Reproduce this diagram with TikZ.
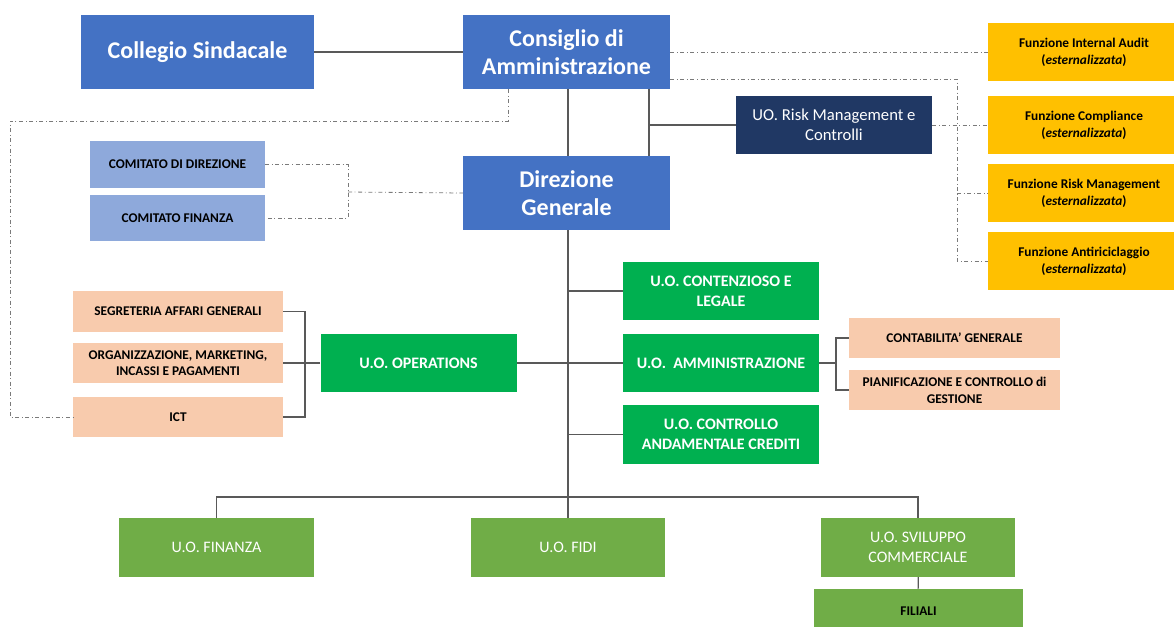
\documentclass[tikz,border=0pt]{standalone}
\usepackage{fontspec}
\setmainfont{Carlito}
\usetikzlibrary{calc}
\definecolor{cdablue}{HTML}{4472C4}
\definecolor{comblue}{HTML}{8EA9DB}
\definecolor{rknavy}{HTML}{203864}
\definecolor{fzgold}{HTML}{FFC000}
\definecolor{ufpeach}{HTML}{F8CBAD}
\definecolor{uogreen}{HTML}{00B050}
\definecolor{uoolive}{HTML}{70AD47}
\definecolor{lngray}{HTML}{595959}
\tikzset{
  box/.style={align=center,inner sep=2pt},
  topbox/.style={box,fill=cdablue,text=white,font=\fontsize{18}{21.5}\selectfont\bfseries,
    minimum width=155pt,minimum height=55.5pt},
  combox/.style={box,fill=comblue,font=\fontsize{10}{12}\selectfont\bfseries,
    minimum width=131pt,minimum height=35pt},
  funzbox/.style={box,fill=fzgold,font=\fontsize{10}{12.75}\selectfont\bfseries,
    minimum width=144pt,minimum height=43.5pt},
  peachbox/.style={box,fill=ufpeach,font=\fontsize{10}{12.5}\selectfont\bfseries,
    minimum width=157.5pt,minimum height=30.5pt},
  uobox/.style={box,fill=uogreen,text=white,font=\fontsize{12}{15}\selectfont\bfseries,
    minimum width=147pt,minimum height=44pt},
  olivebox/.style={box,fill=uoolive,text=white,font=\fontsize{12}{15}\selectfont,
    minimum width=146pt,minimum height=44pt},
  solidline/.style={draw=lngray,line width=1pt},
  dotline/.style={draw=lngray!80,line width=0.6pt,dash dot}
}

\begin{document}
\begin{tikzpicture}[x=0.75pt,y=-0.75pt]
\useasboundingbox (0,0) rectangle (1174,626);
\clip (0,0) rectangle (1174,626);

% vertici
\node [topbox,minimum width=175pt] (coll) at (197.5,52) {Collegio Sindacale};
\node [topbox] (cons) at (566.5,52) {Consiglio di\\Amministrazione};
\node [topbox] (dir) at (566.5,193) {Direzione\\Generale};
\node [box,fill=rknavy,text=white,font=\fontsize{12.5}{15}\selectfont,
  minimum width=147pt,minimum height=44pt] (risk) at (834,125) {UO. Risk Management e\\Controlli};

% comitati
\node [combox] (comd) at (177.5,164.5) {COMITATO DI DIREZIONE};
\node [combox] (comf) at (177.5,218) {COMITATO FINANZA};

% funzioni esternalizzate
\node [funzbox] (audit) at (1084,52) {Funzione Internal Audit\\(\textit{esternalizzata})};
\node [funzbox] (compl) at (1084,125) {Funzione Compliance\\(\textit{esternalizzata})};
\node [funzbox] (riskf) at (1084,193) {Funzione Risk Management\\(\textit{esternalizzata})};
\node [funzbox] (antir) at (1084,261) {Funzione Antiriciclaggio\\(\textit{esternalizzata})};

% operations
\node [peachbox] (segr) at (178,311.5) {SEGRETERIA AFFARI GENERALI};
\node [peachbox] (org) at (178,363) {ORGANIZZAZIONE, MARKETING,\\INCASSI E PAGAMENTI};
\node [peachbox] (ict) at (178,417) {ICT};
\node [uobox] (ops) at (418.5,363) {U.O. OPERATIONS};

% unita' centrali
\node [uobox] (cont) at (721,291) {U.O. CONTENZIOSO E\\LEGALE};
\node [uobox] (amm) at (721,363) {U.O.\ \ AMMINISTRAZIONE};
\node [uobox] (ctrl) at (721,434.5) {U.O. CONTROLLO\\ANDAMENTALE CREDITI};
\node [peachbox,minimum width=158pt,minimum height=30pt] (cgen) at (954.5,338) {CONTABILITA' GENERALE};
\node [peachbox,minimum width=158pt,minimum height=30pt,font=\fontsize{10}{12.75}\selectfont\bfseries] (pian) at (954.5,390) {PIANIFICAZIONE E CONTROLLO di\\GESTIONE};

% unita' periferiche
\node [olivebox] (fin) at (216.5,547.5) {U.O. FINANZA};
\node [olivebox] (fidi) at (568,547.5) {U.O. FIDI};
\node [olivebox] (svil) at (918,547.5) {U.O. SVILUPPO\\COMMERCIALE};
\node [box,fill=uoolive,font=\fontsize{10}{12}\selectfont\bfseries,
  minimum width=157pt,minimum height=33pt] (fil) at (918.5,611) {FILIALI};

\coordinate (rk) at (649,125);
\coordinate (ob) at (305,363);
\coordinate (ab) at (836,363);
\coordinate (bus) at (568,497);
\coordinate (fb) at (957,79);
\coordinate (cd) at (508,121);
\coordinate (ul) at (10,121);
\coordinate (cb) at (348,192);

\begin{scope}[solidline]
\draw (coll) -- (cons);
\draw (cons.south -| bus) -- (dir.north -| bus);
\draw (cons.south -| rk) -- (dir.north -| rk);
\draw (rk) -- (risk.west);
\draw (dir.south -| bus) -- (fidi.north -| bus);
\draw (cont.west) -- (cont.west -| bus);
\draw (ops.east) -- (amm.west);
\draw (ctrl.west) -- (ctrl.west -| bus);
\draw (fin.north) |- (bus) -| (svil.north);
\draw (svil) -- (fil);
\draw (ops.west) -- (org.east);
\draw (segr.east) -| (ob) |- (ict.east);
\draw (amm.east) -- (ab);
\draw (cgen.west) -| (ab) |- (pian.west);
\end{scope}

\begin{scope}[dotline]
\draw (cons.east) -- (audit.west);
\draw (cons.east |- fb) -- (fb) |- (antir.west);
\draw (risk.east) -- (compl.west);
\draw (fb |- riskf.west) -- (riskf.west);
\draw (cons.south -| cd) -- (cd) -- (ul) |- (ict.west);
\draw (comd.east) -| (cb) |- (comf.east);
\draw (cb) -- (dir.west);
\end{scope}

\end{tikzpicture}
\end{document}
